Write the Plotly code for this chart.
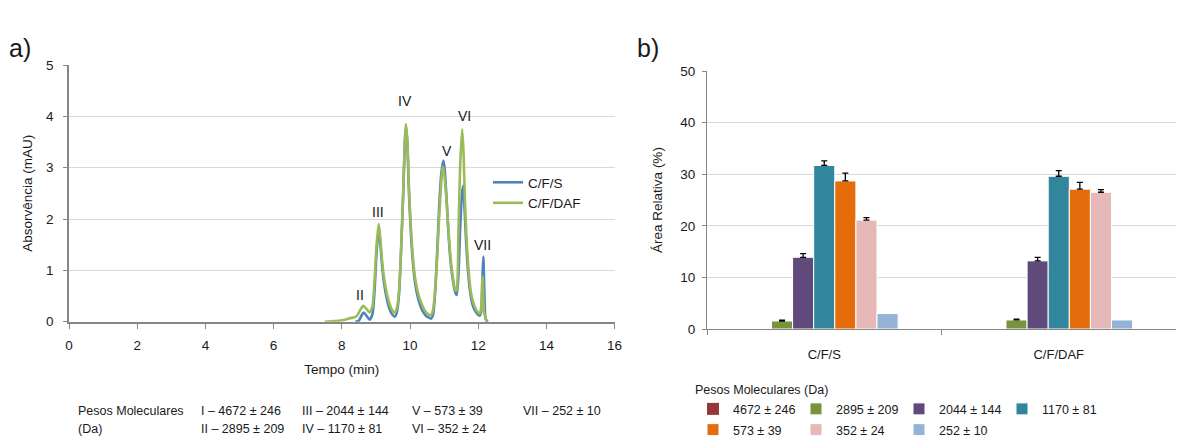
import plotly.graph_objects as go

# ---------------- data: chromatogram (a) ----------------
time_cfs = [8.40, 8.50, 8.58, 8.64, 8.72, 8.82, 8.90, 8.96, 9.02, 9.08, 9.12, 9.18, 9.24, 9.32,
            9.40, 9.48, 9.56, 9.62, 9.68, 9.74, 9.80, 9.85, 9.88, 9.92, 9.97, 10.02, 10.08,
            10.15, 10.24, 10.34, 10.45, 10.55, 10.62, 10.68, 10.74, 10.80, 10.86, 10.92, 10.98,
            11.02, 11.08, 11.14, 11.20, 11.26, 11.32, 11.37, 11.42, 11.47, 11.52, 11.56, 11.60,
            11.65, 11.70, 11.76, 11.84, 11.94, 12.04, 12.09, 12.12, 12.15, 12.18, 12.22, 12.28]
abs_cfs = [0.00, 0.02, 0.12, 0.18, 0.12, 0.04, 0.15, 0.60, 1.35, 1.78, 1.60, 1.10, 0.75, 0.45,
           0.25, 0.14, 0.10, 0.20, 0.55, 1.40, 2.50, 3.50, 3.80, 3.50, 2.50, 1.80, 1.20,
           0.75, 0.45, 0.25, 0.13, 0.08, 0.06, 0.15, 0.60, 1.40, 2.30, 2.90, 3.14,
           2.95, 2.30, 1.60, 1.10, 0.80, 0.58, 0.52, 0.90, 1.80, 2.45, 2.65, 2.20,
           1.50, 1.00, 0.60, 0.32, 0.18, 0.12, 0.20, 0.80, 1.27, 0.60, 0.05, 0.00]

time_daf = [7.50, 7.70, 7.90, 8.10, 8.25, 8.35, 8.45, 8.55, 8.63, 8.72, 8.82, 8.90, 8.96, 9.02,
            9.08, 9.12, 9.18, 9.24, 9.32, 9.40, 9.48, 9.56, 9.62, 9.68, 9.74, 9.80, 9.85, 9.88,
            9.92, 9.97, 10.02, 10.08, 10.15, 10.24, 10.34, 10.45, 10.55, 10.62, 10.68, 10.74,
            10.80, 10.86, 10.92, 10.96, 11.00, 11.07, 11.12, 11.17, 11.22, 11.27, 11.33, 11.37,
            11.42, 11.47, 11.53, 11.57, 11.61, 11.66, 11.71, 11.78, 11.86, 11.95, 12.05, 12.09,
            12.13, 12.17, 12.21, 12.25]
abs_daf = [0.00, 0.01, 0.02, 0.04, 0.07, 0.08, 0.12, 0.24, 0.31, 0.25, 0.18, 0.30, 0.80, 1.50,
           1.90, 1.70, 1.20, 0.85, 0.55, 0.35, 0.22, 0.18, 0.28, 0.62, 1.45, 2.50, 3.55, 3.85,
           3.55, 2.60, 1.90, 1.30, 0.85, 0.55, 0.35, 0.20, 0.14, 0.13, 0.25, 0.65,
           1.30, 2.10, 2.75, 3.02, 2.90, 2.37, 1.85, 1.40, 1.05, 0.81, 0.60, 0.62,
           1.72, 3.02, 3.75, 3.30, 2.37, 1.60, 1.07, 0.60, 0.36, 0.22, 0.16, 0.30,
           0.88, 0.20, 0.08, 0.00]

peak_labels = ["II", "III", "IV", "V", "VI", "VII"]
peak_label_t = [8.52, 9.06, 9.84, 11.08, 11.6, 12.12]
peak_label_a = [0.52, 2.13, 4.3, 3.33, 4.0, 1.5]

x_ticks_a = [0, 2, 4, 6, 8, 10, 12, 14, 16]
y_ticks_a = [0, 1, 2, 3, 4, 5]

mw_caption = ["Pesos Moleculares", "(Da)"]
mw_table = [["I – 4672 ± 246", "II – 2895 ± 209"],
            ["III – 2044 ± 144", "IV – 1170 ± 81"],
            ["V – 573 ± 39", "VI – 352 ± 24"],
            ["VII – 252 ± 10"]]

# ---------------- data: relative area (b) ----------------
groups = ["C/F/S", "C/F/DAF"]
mw_labels = ["4672 ± 246", "2895 ± 209", "2044 ± 144", "1170 ± 81",
             "573 ± 39", "352 ± 24", "252 ± 10"]
area_cfs = [0, 1.55, 13.9, 31.7, 28.7, 21.1, 3.0]
err_cfs = [None, 0.15, 0.7, 0.9, 1.5, 0.5, None]
area_daf = [0, 1.75, 13.2, 29.6, 27.1, 26.5, 1.75]
err_daf = [None, 0.15, 0.7, 1.1, 1.3, 0.5, None]
y_ticks_b = [0, 10, 20, 30, 40, 50]

bar_colors = ["#953735", "#77933C", "#604A7B", "#31859C", "#E46C0A", "#E6B9B8", "#95B3D7"]
line_colors = ["#4F81BD", "#9BBB59"]

W, H = 1182, 437
FONT = "Liberation Sans, Arial, sans-serif"
TXT = "#1a1a1a"


def fx(px):
    return px / W


def fy(py):
    return 1 - py / H


fig = go.Figure()

fig.add_trace(go.Scatter(x=time_cfs, y=abs_cfs, mode="lines", name="C/F/S",
                         line=dict(color=line_colors[0], width=2.6, shape="spline", smoothing=0.6),
                         xaxis="x", yaxis="y", legend="legend"))
fig.add_trace(go.Scatter(x=time_daf, y=abs_daf, mode="lines", name="C/F/DAF",
                         line=dict(color=line_colors[1], width=2.6, shape="spline", smoothing=0.6),
                         xaxis="x", yaxis="y", legend="legend"))

for i, lab in enumerate(mw_labels):
    errs = [err_cfs[i], err_daf[i]]
    has_err = any(e is not None for e in errs)
    fig.add_trace(go.Bar(
        x=groups, y=[area_cfs[i], area_daf[i]], name=lab,
        marker=dict(color=bar_colors[i], line=dict(color="white", width=1 if i > 0 else 0)),
        error_y=dict(type="data", symmetric=False,
                     array=[e if e is not None else 0 for e in errs],
                     arrayminus=[0, 0],
                     visible=has_err, color="black", thickness=1.3, width=3),
        xaxis="x2", yaxis="y2",
        legend="legend2" if i < 4 else "legend3",
    ))

num_font = dict(family=FONT, size=13.5, color=TXT)
cat_font = dict(family=FONT, size=13, color=TXT)
title_font = dict(family=FONT, size=13.5, color=TXT)

fig.update_layout(
    width=W, height=H,
    margin=dict(l=0, r=0, t=0, b=0, autoexpand=False),
    paper_bgcolor="white", plot_bgcolor="white",
    font=dict(family=FONT, size=12.5, color=TXT),
    barmode="group", bargap=0.37, bargroupgap=0,
    xaxis=dict(domain=[fx(69), fx(614.6)], range=[0, 16], tickvals=x_ticks_a,
               showgrid=False, zeroline=False, showline=True, linecolor="#868686", linewidth=2,
               ticks="outside", ticklen=5, tickcolor="#868686", tickwidth=1,
               tickfont=num_font, ticklabelstandoff=5, automargin=False,
               title=dict(text="Tempo (min)", font=title_font, standoff=13),
               anchor="y"),
    yaxis=dict(domain=[fy(321.7), fy(65)], range=[0, 5], tickvals=y_ticks_a,
               showgrid=True, gridcolor="#D9D9D9", gridwidth=1, zeroline=False,
               showline=True, linecolor="#868686", linewidth=1.5,
               ticks="outside", ticklen=4, tickcolor="#868686",
               tickfont=num_font, ticklabelstandoff=7, automargin=False,
               title=dict(text="Absorvência (mAU)", font=title_font, standoff=10),
               anchor="x"),
    xaxis2=dict(domain=[fx(707), fx(1176)], type="category",
                showgrid=False, zeroline=False, showline=True, linecolor="#868686", linewidth=1.2,
                ticks="outside", ticklen=5, tickcolor="#868686", tickson="boundaries",
                tickfont=cat_font, ticklabelstandoff=13, automargin=False, anchor="y2"),
    yaxis2=dict(domain=[fy(329), fy(71)], range=[0, 50], tickvals=y_ticks_b,
                showgrid=True, gridcolor="#D9D9D9", gridwidth=1, zeroline=False,
                showline=True, linecolor="#868686", linewidth=1.2,
                ticks="outside", ticklen=4, tickcolor="#868686",
                tickfont=num_font, ticklabelstandoff=4, automargin=False,
                title=dict(text="Área Relativa (%)", font=title_font, standoff=14),
                anchor="x2"),
    legend=dict(x=fx(488), y=fy(167), xanchor="left", yanchor="top",
                bgcolor="rgba(0,0,0,0)", font=dict(family=FONT, size=13.5, color=TXT),
                tracegroupgap=0, itemwidth=30),
    legend2=dict(x=fx(693), y=fy(378), xanchor="left", yanchor="top", orientation="h",
                 bgcolor="rgba(0,0,0,0)", font=dict(family=FONT, size=12.5, color=TXT),
                 entrywidth=58, entrywidthmode="pixels", itemwidth=30,
                 title=dict(text="Pesos Moleculares (Da)", side="top",
                            font=dict(family=FONT, size=12.5, color=TXT))),
    legend3=dict(x=fx(693), y=fy(415), xanchor="left", yanchor="top", orientation="h",
                 bgcolor="rgba(0,0,0,0)", font=dict(family=FONT, size=12.5, color=TXT),
                 entrywidth=58, entrywidthmode="pixels", itemwidth=30),
    showlegend=True,
)

annotations = []
for lab, t, a in zip(peak_labels, peak_label_t, peak_label_a):
    annotations.append(dict(x=t, y=a, xref="x", yref="y", text=lab, showarrow=False,
                            font=dict(family=FONT, size=14, color=TXT)))

annotations.append(dict(x=fx(7), y=fy(48), xref="paper", yref="paper", text="a)", showarrow=False,
                        xanchor="left", yanchor="middle", font=dict(family=FONT, size=25, color=TXT)))
annotations.append(dict(x=fx(635), y=fy(48), xref="paper", yref="paper", text="b)", showarrow=False,
                        xanchor="left", yanchor="middle", font=dict(family=FONT, size=25, color=TXT)))

row_y = [411, 429]
for j, txt in enumerate(mw_caption):
    annotations.append(dict(x=fx(76), y=fy(row_y[j]), xref="paper", yref="paper", text=txt,
                            showarrow=False, xanchor="left", yanchor="middle",
                            font=dict(family=FONT, size=12.5, color=TXT)))
col_x = [199, 300, 410, 521]
for c, col in enumerate(mw_table):
    for j, txt in enumerate(col):
        annotations.append(dict(x=fx(col_x[c]), y=fy(row_y[j]), xref="paper", yref="paper", text=txt,
                                showarrow=False, xanchor="left", yanchor="middle",
                                font=dict(family=FONT, size=12.5, color=TXT)))

fig.update_layout(annotations=annotations)

fig.write_html("out.html", config={"displayModeBar": False},
               post_script="document.body.style.margin='0px';")
